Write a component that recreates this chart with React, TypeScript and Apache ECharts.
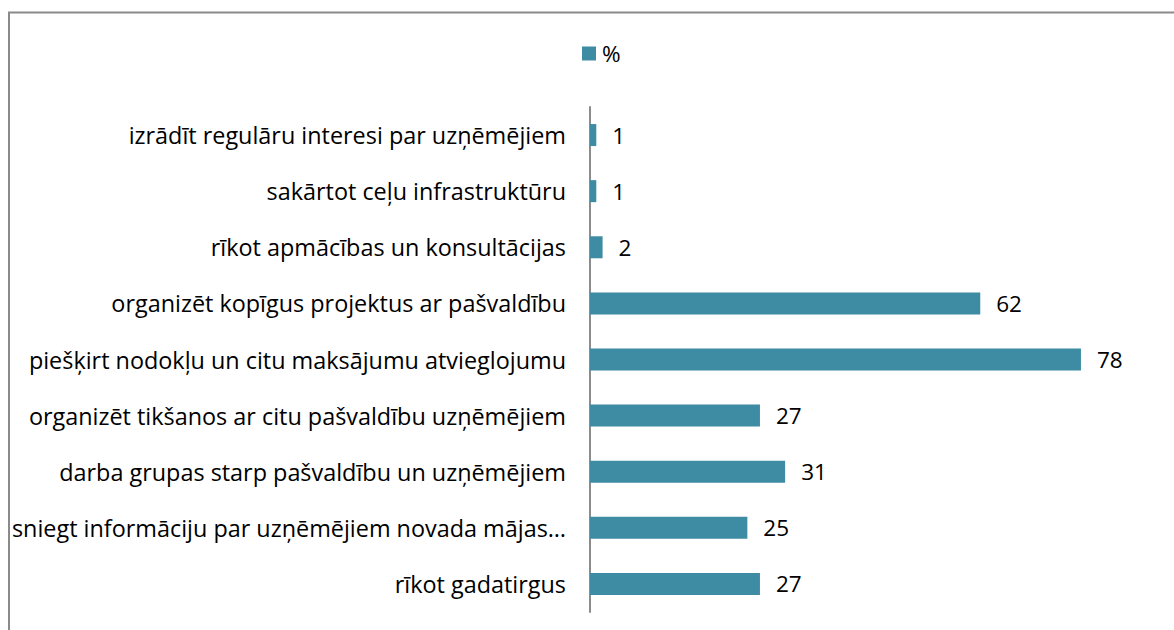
import React, { useEffect, useRef } from "react";
import * as echarts from "echarts";

const categories = [
  "izrādīt regulāru interesi par uzņēmējiem",
  "sakārtot ceļu infrastruktūru",
  "rīkot apmācības un konsultācijas",
  "organizēt kopīgus projektus ar pašvaldību",
  "piešķirt nodokļu un citu maksājumu atvieglojumu",
  "organizēt tikšanos ar citu pašvaldību uzņēmējiem",
  "darba grupas starp pašvaldību un uzņēmējiem",
  "sniegt informāciju par uzņēmējiem novada mājas…",
  "rīkot gadatirgus",
];
const values = [1, 1, 2, 62, 78, 27, 31, 25, 27];
const seriesName = "%";

const FONT = "'Open Sans', sans-serif";
const FS = 22.5;
const FS_AXIS = 23.4;

export default function App() {
  const ref = useRef<HTMLDivElement>(null);
  useEffect(() => {
    document.body.style.margin = "0";
    const chart = echarts.init(ref.current!, null, { renderer: "svg" });
    chart.setOption({
      animation: false,
      backgroundColor: "#ffffff",
      textStyle: { fontFamily: FONT },
      graphic: [
        {
          type: "rect",
          shape: { x: 9, y: 12.5, width: 1200, height: 700 },
          style: { fill: "none", stroke: "#8a8a8a", lineWidth: 2 },
          silent: true,
        },
      ],
      legend: {
        data: [{ name: seriesName, icon: "rect" }],
        top: 42,
        left: 582,
        padding: 0,
        itemWidth: 14,
        itemHeight: 14,
        itemGap: 6,
        textStyle: { fontSize: FS, color: "#000", fontFamily: FONT, padding: [0, 0, 0, 1] },
      },
      grid: { left: 590, top: 107, width: 566.5, height: 505 },
      xAxis: {
        type: "value",
        min: 0,
        max: 90,
        show: false,
        splitLine: { show: false },
      },
      yAxis: {
        type: "category",
        data: categories,
        inverse: true,
        axisLine: { show: true, lineStyle: { color: "#8c8c8c", width: 2 } },
        axisTick: { show: false },
        axisLabel: {
          fontSize: FS_AXIS,
          color: "#000",
          margin: 24,
          fontFamily: FONT,
        },
      },
      series: [
        {
          name: seriesName,
          type: "bar",
          data: values,
          barWidth: 22,
          itemStyle: { color: "#3d8ca4" },
          label: {
            show: true,
            position: "right",
            distance: 16,
            fontSize: FS,
            color: "#000",
            fontFamily: FONT,
          },
        },
      ],
    });
    return () => chart.dispose();
  }, []);
  return (
    <div
      ref={ref}
      style={{ position: "absolute", left: 0, top: 0, width: 1174, height: 630 }}
    />
  );
}
